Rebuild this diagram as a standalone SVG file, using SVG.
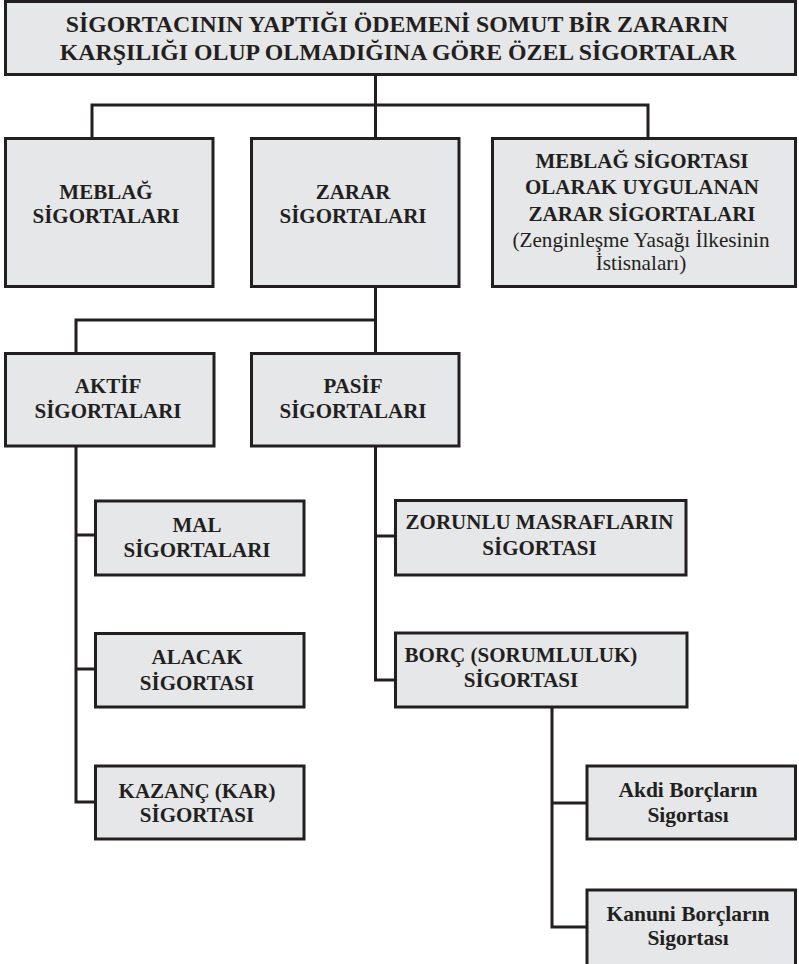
<svg xmlns="http://www.w3.org/2000/svg" width="799" height="964" viewBox="0 0 799 964">
<style>
.box{fill:#e6e7e8;stroke:#231f20;stroke-width:3}
.lnk{fill:none;stroke:#231f20;stroke-width:3}
text{fill:#231f20;text-anchor:middle}
.b{font-weight:bold;font-size:21px}
.m{font-weight:bold;font-size:21.5px}
.t{font-weight:bold;font-size:23.8px}
.r{font-size:21.2px}
</style>
<rect width="799" height="964" fill="#ffffff"/>
<g id="connectors">
<path class="lnk" d="M375.5 74.5V138.5M92 138.5V105H648V138.5"/>
<path class="lnk" d="M375.5 286.5V353.5M76 353.5V320H375.5"/>
<path class="lnk" d="M76 446V802H95.5M76 535H95.5M76 669H95.5"/>
<path class="lnk" d="M375.5 446V680H395.5M375.5 536H395.5"/>
<path class="lnk" d="M552 707V927H587M552 803H587"/>
</g>
<g font-family="'Liberation Serif', 'Times New Roman', 'DejaVu Serif', serif">
<g id="root">
<rect class="box" x="5.5" y="1.5" width="790" height="73"/>
<text class="t" x="397" y="32">SİGORTACININ YAPTIĞI ÖDEMENİ SOMUT BİR ZARARIN</text>
<text class="t" x="398" y="60">KARŞILIĞI OLUP OLMADIĞINA GÖRE ÖZEL SİGORTALAR</text>
</g>
<g id="meblag">
<rect class="box" x="5.5" y="138.5" width="207.5" height="148"/>
<text class="b" x="106" y="199">MEBLAĞ</text>
<text class="b" x="106" y="223">SİGORTALARI</text>
</g>
<g id="zarar">
<rect class="box" x="251.5" y="138.5" width="207.5" height="148"/>
<text class="b" x="353" y="199">ZARAR</text>
<text class="b" x="353" y="223">SİGORTALARI</text>
</g>
<g id="meblag-zarar">
<rect class="box" x="492.5" y="138.5" width="303" height="148"/>
<text class="b" x="642" y="168">MEBLAĞ SİGORTASI</text>
<text class="b" x="642" y="194">OLARAK UYGULANAN</text>
<text class="b" x="642" y="220.5">ZARAR SİGORTALARI</text>
<text class="r" x="641" y="246.5">(Zenginleşme Yasağı İlkesinin</text>
<text class="r" x="641" y="270">İstisnaları)</text>
</g>
<g id="aktif">
<rect class="box" x="5.5" y="353.5" width="208.5" height="92.5"/>
<text class="b" x="108" y="392.5">AKTİF</text>
<text class="b" x="108" y="417.5">SİGORTALARI</text>
</g>
<g id="pasif">
<rect class="box" x="251.5" y="353.5" width="207.5" height="92.5"/>
<text class="b" x="353" y="392.5">PASİF</text>
<text class="b" x="353" y="417.5">SİGORTALARI</text>
</g>
<g id="mal">
<rect class="box" x="95.5" y="501" width="208.5" height="74"/>
<text class="b" x="197" y="531.5">MAL</text>
<text class="b" x="197" y="556.5">SİGORTALARI</text>
</g>
<g id="alacak">
<rect class="box" x="95.5" y="633.5" width="208.5" height="73.5"/>
<text class="b" x="197" y="664">ALACAK</text>
<text class="b" x="197" y="690">SİGORTASI</text>
</g>
<g id="kazanc">
<rect class="box" x="95.5" y="766" width="208.5" height="73"/>
<text class="b" x="197" y="797.5">KAZANÇ (KAR)</text>
<text class="b" x="197" y="821.5">SİGORTASI</text>
</g>
<g id="zorunlu">
<rect class="box" x="395.5" y="500.5" width="290.5" height="74.5"/>
<text class="b" x="539.5" y="529">ZORUNLU MASRAFLARIN</text>
<text class="b" x="539.5" y="555">SİGORTASI</text>
</g>
<g id="borc">
<rect class="box" x="395.5" y="633" width="291.5" height="74"/>
<text class="b" x="521" y="661.5">BORÇ (SORUMLULUK)</text>
<text class="b" x="521" y="686.5">SİGORTASI</text>
</g>
<g id="akdi">
<rect class="box" x="587" y="766" width="208.5" height="73"/>
<text class="m" x="688" y="796.5">Akdi Borçların</text>
<text class="m" x="688" y="821.5">Sigortası</text>
</g>
<g id="kanuni">
<rect class="box" x="587" y="890" width="208.5" height="80"/>
<text class="m" x="688" y="920.5">Kanuni Borçların</text>
<text class="m" x="688" y="945">Sigortası</text>
</g>
</g>
</svg>
